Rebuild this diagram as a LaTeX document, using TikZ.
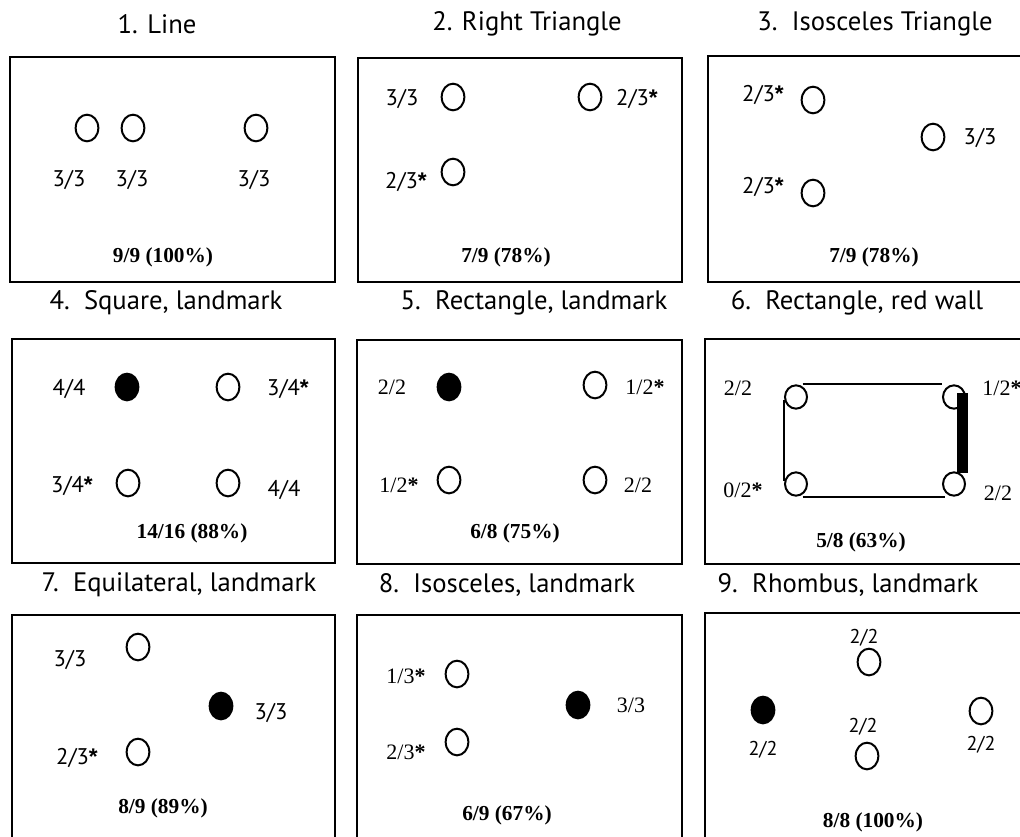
\documentclass[tikz,border=0pt]{standalone}
\usepackage{fontspec}
\setmainfont{Liberation Serif}
\newfontfamily\titlefont{PT Sans}
\newfontfamily\starfont{Liberation Sans}
\newcommand{\sst}{{\starfont\bfseries *}}
\newcommand{\rst}{{\bfseries *}}
\usetikzlibrary{shapes.geometric}
\begin{document}
\begin{tikzpicture}[x=0.75pt,y=-0.75pt,
 frame/.style={draw, line width=1.9pt},
 ttl/.style={font=\titlefont\fontsize{20}{23}\selectfont, inner sep=0},
 lbs/.style={font=\titlefont\fontsize{17}{19}\selectfont, inner sep=0},
 lbsm/.style={font=\titlefont\fontsize{15}{17}\selectfont, inner sep=0},
 lbr/.style={font=\fontsize{16.5}{18}\selectfont, inner sep=0},
 res/.style={font=\bfseries\fontsize{16}{18}\selectfont, inner sep=0},
 oc/.style={ellipse, draw, line width=1.5pt, minimum width=17pt, minimum height=20pt, inner sep=0},
 fc/.style={oc, fill=black}]
\useasboundingbox (0,0) rectangle (1020,836);
\fill[white] (0,0) rectangle (1020,836);
% frames
\draw[frame] (10,57) rectangle (335,282);
\draw[frame] (358,58) rectangle (682,282);
\draw[frame] (708,56) rectangle (1035,282);
\draw[frame] (12,339) rectangle (335,563);
\draw[frame] (357,340) rectangle (682,564);
\draw[frame] (705,339) rectangle (1035,564);
\draw[frame] (12,615) rectangle (335,850);
\draw[frame] (357,615) rectangle (682,850);
\draw[frame] (705,613) rectangle (1035,850);
% titles
\node[ttl] (t1) at (157,24) {1. Line};
\node[ttl] (t2) at (527,24) {2. Right Triangle};
\node[ttl] (t3) at (875,24) {3.\ \ Isosceles Triangle};
\node[ttl] (t4) at (166,303) {4.\ \ Square, landmark};
\node[ttl] (t5) at (534,303) {5.\ \ Rectangle, landmark};
\node[ttl] (t6) at (857,303) {6.\ \ Rectangle, red wall};
\node[ttl] (t7) at (179,585) {7.\ \ Equilateral, landmark};
\node[ttl] (t8) at (507,585) {8.\ \ Isosceles, landmark};
\node[ttl] (t9) at (848,585) {9.\ \ Rhombus, landmark};
% panel 1
\node[oc] (a1) at (87,128) {};
\node[oc] (a2) at (133,128) {};
\node[oc] (a3) at (256,128) {};
\node[lbs] (la1) at (69,180) {3/3};
\node[lbs] (la2) at (132,180) {3/3};
\node[lbs] (la3) at (254,180) {3/3};
\node[res] (ra) at (163,257) {9/9 (100\%)};
% panel 2
\node[oc] (b1) at (453,97) {};
\node[oc] (b2) at (590,97) {};
\node[oc] (b3) at (453,172) {};
\node[lbs] (lb1) at (402,99) {3/3};
\node[lbs] (lb2) at (637,99) {2/3\sst};
\node[lbs] (lb3) at (406,182) {2/3\sst};
\node[res] (rb) at (506,257) {7/9 (78\%)};
% panel 3
\node[oc] (c1) at (813,100) {};
\node[oc] (c2) at (933,137) {};
\node[oc] (c3) at (813,193) {};
\node[lbs] (lc1) at (763,95) {2/3\sst};
\node[lbs] (lc2) at (980,138) {3/3};
\node[lbs] (lc3) at (763,187) {2/3\sst};
\node[res] (rc) at (874,257) {7/9 (78\%)};
% panel 4
\node[fc] (d1) at (127,387) {};
\node[oc] (d2) at (228,387) {};
\node[oc] (d3) at (128,483) {};
\node[oc] (d4) at (228,483) {};
\node[lbs] (ld1) at (69,389) {4/4};
\node[lbs] (ld2) at (288,389) {3/4\sst};
\node[lbs] (ld3) at (72,486) {3/4\sst};
\node[lbs] (ld4) at (284,490) {4/4};
\node[res] (rd) at (192,533) {14/16 (88\%)};
% panel 5
\node[fc] (e1) at (449,387) {};
\node[oc] (e2) at (595,385) {};
\node[oc] (e3) at (449,480) {};
\node[oc] (e4) at (595,480) {};
\node[lbr] (le1) at (392,387) {2/2};
\node[lbr] (le2) at (645,387) {1/2\rst};
\node[lbr] (le3) at (399,485) {1/2\rst};
\node[lbr] (le4) at (638,485) {2/2};
\node[res] (re) at (515,533) {6/8 (75\%)};
% panel 6
\node[oc, minimum width=16.5pt, minimum height=17.5pt] (f1) at (796,397) {};
\node[oc, minimum width=16.5pt, minimum height=17.5pt] (f2) at (954,397) {};
\node[oc, minimum width=16.5pt, minimum height=17.5pt] (f3) at (796,484) {};
\node[oc, minimum width=16.5pt, minimum height=17.5pt] (f4) at (954,484) {};
\draw[line width=1.4pt] ([xshift=5pt]f1.north) -- ([xshift=-9pt]f2.north);
\draw[line width=1.4pt] ([yshift=-2pt]f1.west) -- ([yshift=2pt]f3.west);
\draw[line width=1.4pt] ([xshift=5pt]f3.south) -- ([xshift=-7pt]f4.south);
\fill (956.5,393) rectangle (967.5,473);
\node[lbr] (lf1) at (738,388) {2/2};
\node[lbr] (lf2) at (1002,388) {1/2\rst};
\node[lbr] (lf3) at (743,490) {0/2\rst};
\node[lbr] (lf4) at (998,493) {2/2};
\node[res] (rf) at (861,542) {5/8 (63\%)};
% panel 7
\node[oc] (g1) at (138,647) {};
\node[fc] (g2) at (221,706) {};
\node[oc] (g3) at (138,752) {};
\node[lbs] (lg1) at (70,660) {3/3};
\node[lbs] (lg2) at (271,713) {3/3};
\node[lbs] (lg3) at (77,758) {2/3\sst};
\node[res] (rg) at (163,808) {8/9 (89\%)};
% panel 8
\node[oc] (h1) at (457,674) {};
\node[fc] (h2) at (578,705) {};
\node[oc] (h3) at (457,742) {};
\node[lbr] (lh1) at (406,676) {1/3\rst};
\node[lbr] (lh2) at (631,705) {3/3};
\node[lbr] (lh3) at (406,752) {2/3\rst};
\node[res] (rh) at (507,815) {6/9 (67\%)};
% panel 9
\node[oc] (k1) at (869,662) {};
\node[fc] (k2) at (763,710) {};
\node[oc] (k3) at (867,756) {};
\node[oc] (k4) at (981,711) {};
\node[lbsm] (lk1) at (864,638) {2/2};
\node[lbsm] (lk2) at (763,750) {2/2};
\node[lbsm] (lk3) at (863,727) {2/2};
\node[lbsm] (lk4) at (981,745) {2/2};
\node[res] (rk) at (873,822) {8/8 (100\%)};
\end{tikzpicture}
\end{document}
